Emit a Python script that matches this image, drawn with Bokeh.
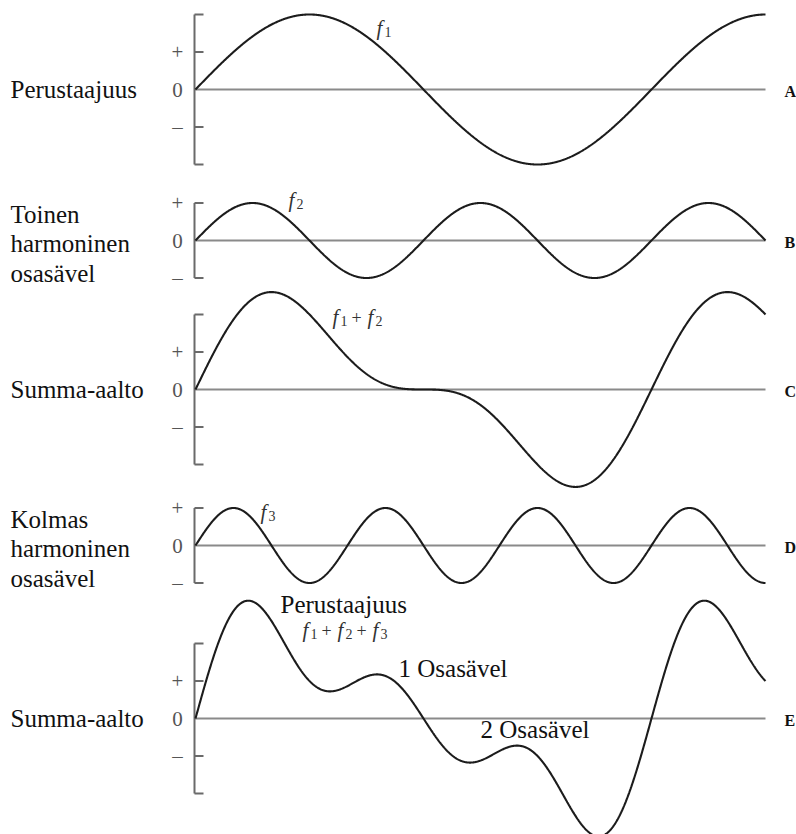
import numpy as np
from bokeh.plotting import figure
from bokeh.models import Range1d
from bokeh.core.properties import value
from bokeh.embed import file_html
from bokeh.resources import INLINE

# ---------------- data ----------------
harmonic_numbers = [1, 2, 3]            # f1, f2, f3
harmonic_amplitudes = [1.0, 0.5, 0.5]   # relative amplitudes
cycles_shown = 1.25                     # fundamental cycles across the width
panel_letters = ["A", "B", "C", "D", "E"]
panel_components = [[1], [2], [1, 2], [3], [1, 2, 3]]
panel_titles = [
    ["Perustaajuus"],
    ["Toinen", "harmoninen", "osasävel"],
    ["Summa-aalto"],
    ["Kolmas", "harmoninen", "osasävel"],
    ["Summa-aalto"],
]
panel_bracket = [1.0, 0.5, 1.0, 0.5, 1.0]   # half height of the scale bracket
tick_values = [0.5, 0.0, -0.5]
tick_symbols = ["+", "0", "\u2013"]
e_notes = ["Perustaajuus", "1 Osasävel", "2 Osasävel"]

# ---------------- layout (pixels) ----------------
W, H = 796, 834
X0 = 195            # pixel of phase 0
PXC = 456           # pixels per fundamental cycle
UNIT = 75           # pixels per amplitude unit
zero_px = [89, 240, 389, 545, 718]
SERIF = value("Liberation Serif, Times New Roman, serif")


def X(px):
    return (px - X0) / PXC


def Y(px):
    return -px / UNIT


p = figure(width=W, height=H, output_backend="svg", toolbar_location=None,
           x_range=Range1d(X(0), X(W)), y_range=Range1d(Y(H), Y(0)),
           x_axis_type=None, y_axis_type=None, min_border=0)
p.grid.visible = False
p.outline_line_color = None
p.background_fill_color = "white"
p.border_fill_color = "white"

t = np.linspace(0, cycles_shown, 1200)

for k in range(5):
    base = Y(zero_px[k])
    # zero line
    p.line([X(194), cycles_shown], [base, base], line_color="#8a8a8a", line_width=2)
    # bracket
    hb = panel_bracket[k]
    p.line([X(194), X(194)], [base - hb, base + hb], line_color="#6a6a6a", line_width=2)
    stubs = [hb, -hb] + ([0.5, -0.5] if hb > 0.5 else [])
    for s in stubs:
        p.line([X(194), X(203)], [base + s, base + s], line_color="#6a6a6a", line_width=2)
    # tick symbols
    p.text(x=[X(177)] * 3, y=[base + v for v in tick_values], text=tick_symbols,
           text_font=SERIF, text_font_size="21px", text_color="#555555",
           text_align="center", text_baseline="middle")
    # waveform
    y = np.zeros_like(t)
    for h in panel_components[k]:
        i = harmonic_numbers.index(h)
        y += harmonic_amplitudes[i] * np.sin(2 * np.pi * h * t)
    p.line(t, base + y, line_color="#1c1c1c", line_width=2.1)
    # right letter
    p.text(x=[X(784)], y=[Y(zero_px[k] + 2)], text=[panel_letters[k]],
           text_font=SERIF, text_font_size="16px", text_font_style="bold",
           text_color="#111111", text_align="left", text_baseline="middle")

# left titles (line centres in px)
title_centres = [[89], [214, 243, 273], [389], [519, 548, 578], [718]]
for k in range(5):
    lines = panel_titles[k]
    p.text(x=[X(10)] * len(lines), y=[Y(c) for c in title_centres[k]], text=lines,
           text_font=SERIF, text_font_size="25px", text_color="#111111",
           text_align="left", text_baseline="middle")


# f labels with subscripts
def f_label(left_px, center_px, comps):
    fx, fy, sx, sy, px_, py_ = [], [], [], [], [], []
    for j, h in enumerate(comps):
        x0 = left_px + 35 * j
        fx.append(X(x0)); fy.append(Y(center_px))
        sx.append(X(x0 + 8)); sy.append(Y(center_px + 4))
        if j < len(comps) - 1:
            px_.append(X(x0 + 19)); py_.append(Y(center_px + 1))
    p.text(x=fx, y=fy, text=["f"] * len(fx), text_font=SERIF, text_font_size="21px",
           text_font_style="italic", text_color="#333333", text_baseline="middle")
    p.text(x=sx, y=sy, text=[str(h) for h in comps], text_font=SERIF,
           text_font_size="14px", text_color="#333333", text_baseline="middle")
    if px_:
        p.text(x=px_, y=py_, text=["+"] * len(px_), text_font=SERIF,
               text_font_size="18px", text_color="#333333", text_baseline="middle")


f_anchor = [(376, 27), (288, 199), (332, 316), (260, 511), (302, 629)]
for k in range(5):
    f_label(f_anchor[k][0], f_anchor[k][1], panel_components[k])

# notes on panel E
p.text(x=[X(280), X(398), X(480)], y=[Y(604), Y(668), Y(729)], text=e_notes,
       text_font=SERIF, text_font_size="25px", text_color="#111111",
       text_align="left", text_baseline="middle")

open("out.html", "w").write(file_html(p, INLINE))
